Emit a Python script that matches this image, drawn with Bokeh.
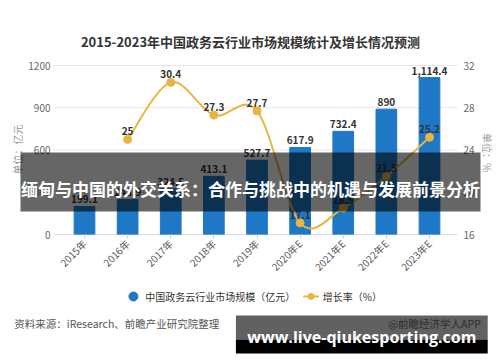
import math
from bokeh.plotting import figure
from bokeh.layouts import column
from bokeh.core.properties import value
from bokeh.models import (Range1d, LinearAxis, ColumnDataSource, LabelSet,
                          Label, BoxAnnotation, FixedTicker)
from bokeh.embed import file_html
from bokeh.resources import INLINE

# ---------------- data ----------------
years = ["2015年", "2016年", "2017年", "2018年", "2019年", "2020年E", "2021年E", "2022年E", "2023年E"]
market = [199.1, 248.9, 324.5, 413.1, 527.7, 617.9, 732.4, 890.0, 1114.4]
market_labels = ["199.1", "248.9", "324.5", "413.1", "527.7", "617.9", "732.4", "890", "1,114.4"]
rate_years = years[1:]
rate = [25.0, 30.4, 27.3, 27.7, 17.1, 18.5, 21.5, 25.2]
rate_labels = ["25", "30.4", "27.3", "27.7", "17.1", "18.5", "21.5", "25.2"]
left_ticks = [0, 300, 600, 900, 1200]
right_ticks = [16, 20, 24, 28, 32]

title_text = "2015-2023年中国政务云行业市场规模统计及增长情况预测"
banner_text = "缅甸与中国的外交关系：合作与挑战中的机遇与发展前景分析"
source_text = "资料来源：iResearch、前瞻产业研究院整理"
app_text = "@前瞻经济学人APP"
url_text = "www.live-qiukesporting.com"
legend_labels = ["中国政务云行业市场规模（亿元）", "增长率（%）"]

BLUE = "#1E78C6"
GOLD = "#EAB440"
FONT = "Noto Sans CJK SC"

# ---------------- layout constants (page pixels) ----------------
W = 500
FRAME_L, FRAME_R, FRAME_B = 8, 496, 234   # main frame: x 8..496, y 0..234
FIRST_X, STEP_X = 84.0, 43.125            # first category centre, category spacing
PX_PER_LEFT = 169.0 / 1200                # 0 -> 234, 1200 -> 65
GRID_L, GRID_R = 53, 457
MAIN_H = 284

def sx(px):
    return px - FRAME_L
def sy(py):
    return FRAME_B - py

idx = list(range(len(years)))
ridx = [years.index(y) for y in rate_years]

x_start = (FRAME_L - FIRST_X) / STEP_X
x_end = (FRAME_R - FIRST_X) / STEP_X
y_top = FRAME_B / PX_PER_LEFT
r_top = right_ticks[0] + (right_ticks[-1] - right_ticks[0]) * y_top / left_ticks[-1]

p = figure(width=W, height=MAIN_H, output_backend="svg", toolbar_location=None,
           x_range=Range1d(x_start, x_end), y_range=Range1d(0, y_top),
           min_border_left=FRAME_L, min_border_right=W - FRAME_R,
           min_border_top=0, min_border_bottom=MAIN_H - FRAME_B)
p.extra_y_ranges = {"rate": Range1d(right_ticks[0], r_top)}
p.outline_line_color = None
p.background_fill_color = "white"
p.border_fill_color = "white"
p.xgrid.grid_line_color = None
p.ygrid.grid_line_color = None

# left axis (labels pulled into the plot area)
p.yaxis.ticker = FixedTicker(ticks=left_ticks)
p.yaxis.axis_line_color = None
p.yaxis.major_tick_line_color = None
p.yaxis.major_tick_out = 0
p.yaxis.major_tick_in = 0
p.yaxis.minor_tick_line_color = None
p.yaxis.major_label_text_color = "#666666"
p.yaxis.major_label_text_font_size = "10px"
p.yaxis.major_label_text_font = FONT
p.yaxis.major_label_standoff = -42

# bottom axis
p.xaxis.ticker = FixedTicker(ticks=idx)
p.xaxis.major_label_overrides = {i: y for i, y in zip(idx, years)}
p.xaxis.axis_line_color = None
p.xaxis.major_tick_line_color = "#cccccc"
p.xaxis.major_tick_out = 4
p.xaxis.major_tick_in = 0
p.xaxis.minor_tick_line_color = None
p.xaxis.major_label_orientation = math.pi / 4
p.xaxis.major_label_text_color = "#555555"
p.xaxis.major_label_text_font_size = "10px"
p.xaxis.major_label_text_font = FONT
p.xaxis.major_label_standoff = 3

# right axis
rax = LinearAxis(y_range_name="rate", ticker=FixedTicker(ticks=right_ticks))
rax.axis_line_color = None
rax.major_tick_line_color = None
rax.major_tick_out = 0
rax.major_tick_in = 0
rax.minor_tick_line_color = None
rax.major_label_text_color = "#666666"
rax.major_label_text_font_size = "10px"
rax.major_label_text_font = FONT
rax.major_label_standoff = -33
p.add_layout(rax, "right")

# grid lines and base line
gl = (GRID_L - FIRST_X) / STEP_X
gr = (GRID_R - FIRST_X) / STEP_X
p.segment(x0=[gl] * len(left_ticks), x1=[gr] * len(left_ticks), y0=left_ticks, y1=left_ticks,
          line_color="#e6e6e6", line_width=1)
p.segment(x0=[gl], x1=[gr], y0=[left_ticks[0]], y1=[left_ticks[0]], line_color="#c8c8c8", line_width=1)

# bars
bsrc = ColumnDataSource(dict(x=idx, market=market, lab=market_labels))
p.vbar(x="x", top="market", width=0.48, source=bsrc, color=BLUE)
p.add_layout(LabelSet(x="x", y="market", text="lab", source=bsrc, y_offset=3,
                      text_align="center", text_baseline="bottom", text_font_size="10px",
                      text_font_style="bold", text_color="#333333", text_font=value(FONT)))

# smooth growth line (bezier segments built from the data points)
xs = [float(i) for i in ridx]
n = len(rate)
x0, y0, x1, y1, cx0, cy0, cx1, cy1 = [], [], [], [], [], [], [], []
for i in range(n - 1):
    pxm = xs[i - 1] if i > 0 else xs[i]
    pym = rate[i - 1] if i > 0 else rate[i]
    pxp = xs[i + 2] if i + 2 < n else xs[i + 1]
    pyp = rate[i + 2] if i + 2 < n else rate[i + 1]
    x0.append(xs[i]); y0.append(rate[i])
    x1.append(xs[i + 1]); y1.append(rate[i + 1])
    cx0.append(xs[i] + (xs[i + 1] - pxm) / 6); cy0.append(rate[i] + (rate[i + 1] - pym) / 6)
    cx1.append(xs[i + 1] - (pxp - xs[i]) / 6); cy1.append(rate[i + 1] - (pyp - rate[i]) / 6)
p.bezier(x0=x0, y0=y0, x1=x1, y1=y1, cx0=cx0, cy0=cy0, cx1=cx1, cy1=cy1,
         line_color=GOLD, line_width=2, y_range_name="rate")

rsrc = ColumnDataSource(dict(x=ridx, rate=rate, lab=rate_labels))
p.scatter(x="x", y="rate", source=rsrc, size=8, color=GOLD, y_range_name="rate")
p.add_layout(LabelSet(x="x", y="rate", text="lab", source=rsrc, y_offset=4,
                      y_range_name="rate", text_align="center", text_baseline="bottom",
                      text_font_size="10px", text_font_style="bold", text_color="#333333",
                      text_font=value(FONT)))

def add_label(fig, px, py, text, size, color, align="center", bold=False, angle=0,
              level="annotation", font=FONT):
    fig.add_layout(Label(x=sx(px), y=sy(py), x_units="screen", y_units="screen", text=text,
                         text_align=align, text_baseline="middle", text_font_size=size,
                         text_color=color, text_font=font, angle=angle,
                         text_font_style="bold" if bold else "normal", level=level))

add_label(p, 250, 41, title_text, "13px", "#333333", bold=True)
add_label(p, 17, 149, "单位：亿元", "10px", "#999999", angle=math.pi / 2)
add_label(p, 487, 152, "单位：%", "10px", "#999999", angle=-math.pi / 2)

# overlay banner across the chart
p.add_layout(BoxAnnotation(left=sx(20), right=sx(480), top=sy(152), bottom=sy(211),
                           left_units="screen", right_units="screen", top_units="screen",
                           bottom_units="screen", fill_color="black", fill_alpha=0.6,
                           line_color=None, level="overlay"))
add_label(p, 250, 188, banner_text, "17px", "white", bold=True, level="overlay")

# ---------------- bottom strip: legend, source, second banner ----------------
BOT_H = 362 - MAIN_H
q = figure(width=W, height=BOT_H, output_backend="svg", toolbar_location=None,
           x_range=Range1d(0, W), y_range=Range1d(362, MAIN_H),
           x_axis_type=None, y_axis_type=None,
           min_border_left=0, min_border_right=0, min_border_top=0, min_border_bottom=0)
q.outline_line_color = None
q.xgrid.grid_line_color = None
q.ygrid.grid_line_color = None
q.background_fill_color = "white"
q.border_fill_color = "white"

# legend
q.scatter(x=[128], y=[296], size=9, color=BLUE)
q.segment(x0=[302], x1=[318], y0=[296], y1=[296], line_color=GOLD, line_width=2)
q.scatter(x=[310], y=[296], size=6, color=GOLD)
q.text(x=[140, 322], y=[296, 296], text=legend_labels, text_align="left", text_baseline="middle",
       text_font_size="10px", text_color="#333333", text_font=value(FONT))

# source & credit
q.text(x=[6], y=[323], text=[source_text], text_align="left", text_baseline="middle",
       text_font_size="10.5px", text_color="#555555", text_font=value(FONT))
q.text(x=[389], y=[323], text=[app_text], text_align="left", text_baseline="middle",
       text_font_size="10.5px", text_color="#777777", text_font=value(FONT))

# second banner
q.quad(left=[233], right=[491], top=[315], bottom=[339], fill_color="black", fill_alpha=0.62,
       line_color=None)
q.quad(left=[233], right=[491], top=[339], bottom=[353], fill_color="black", fill_alpha=1.0,
       line_color=None)
q.text(x=[362], y=[336], text=[url_text], text_align="center", text_baseline="middle",
       text_font_size="16px", text_color="white", text_font_style="bold",
       text_font=value("Open Sans"))

layout = column(p, q, spacing=0)
open("out.html", "w").write(file_html(layout, INLINE))
